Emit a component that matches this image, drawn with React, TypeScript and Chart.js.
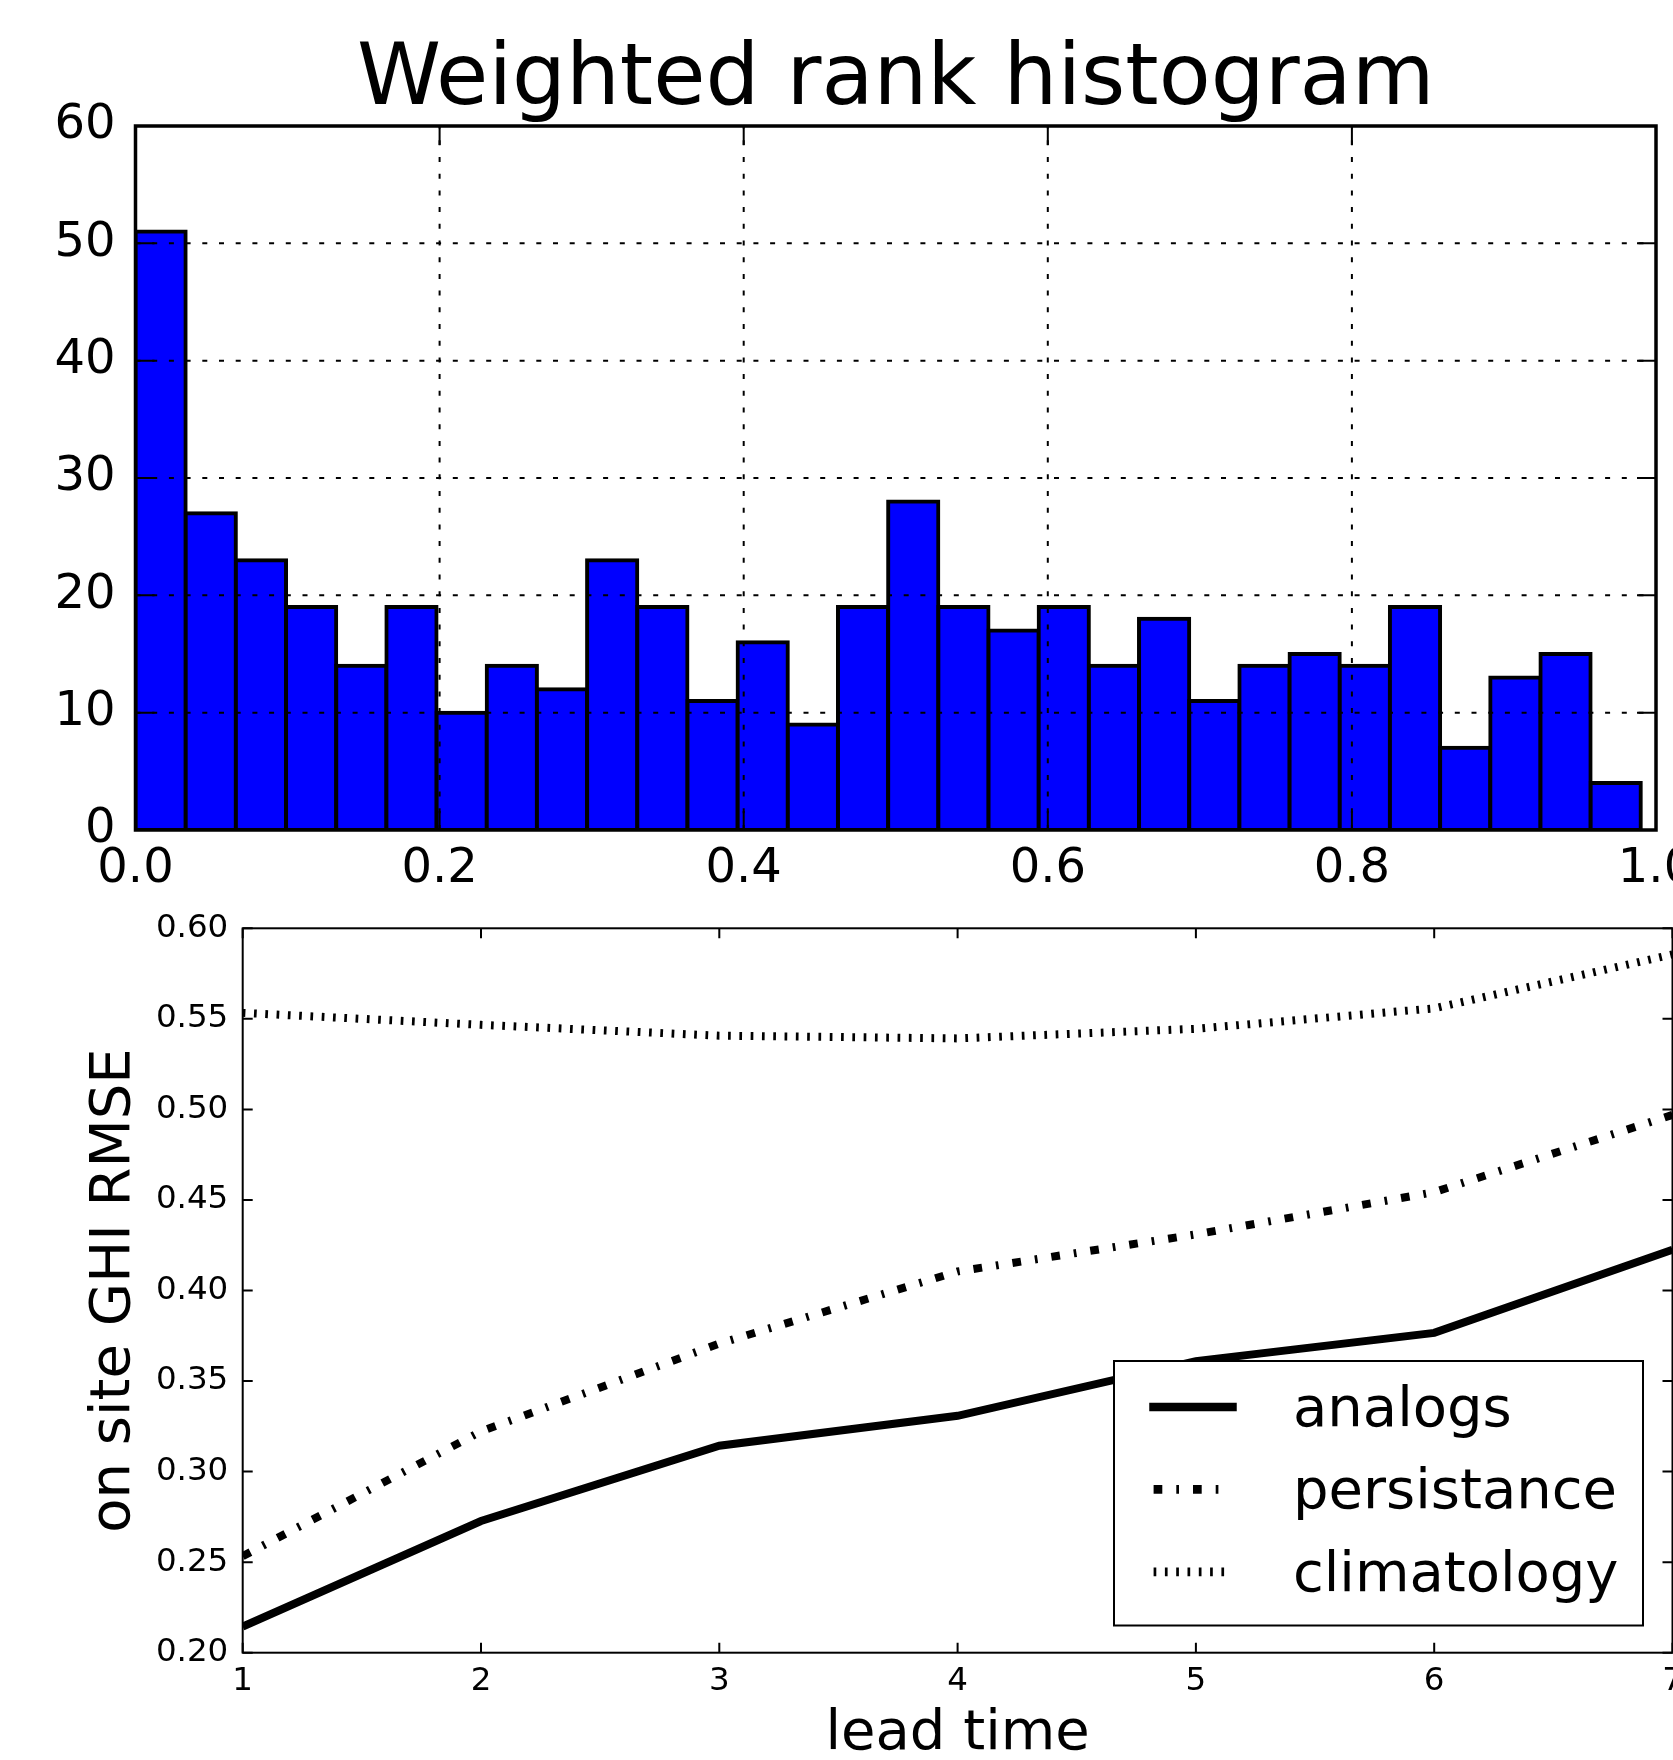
import React, { useEffect, useRef } from 'react';
import { Chart, registerables } from 'chart.js';

Chart.register(...registerables);

const FONT = 'DejaVu Sans';

// ---- Top chart: weighted rank histogram ----
const RANK_TITLE = 'Weighted rank histogram';
const RANK_BIN_WIDTH = 0.033;
const RANK_COUNTS = [51, 27, 23, 19, 14, 19, 10, 14, 12, 23, 19, 11, 16, 9, 19, 28, 19, 17, 19, 14, 18, 11, 14, 15, 14, 19, 7, 13, 15, 4];
const RANK_X_TICKS = [0, 0.2, 0.4, 0.6, 0.8, 1.0];
const RANK_Y_TICKS = [0, 10, 20, 30, 40, 50, 60];

// ---- Bottom chart: RMSE vs lead time ----
const LEAD_TIMES = [1, 2, 3, 4, 5, 6, 7];
const ANALOGS = [0.2144, 0.2727, 0.3143, 0.3308, 0.361, 0.3766, 0.4225];
const PERSISTANCE = [0.2533, 0.3222, 0.3707, 0.4105, 0.431, 0.4543, 0.497];
const CLIMATOLOGY = [0.5533, 0.5467, 0.5407, 0.5392, 0.5445, 0.5558, 0.5856];
const RMSE_Y_TICKS = [0.2, 0.25, 0.3, 0.35, 0.4, 0.45, 0.5, 0.55, 0.6];
const X_LABEL = 'lead time';
const Y_LABEL = 'on site GHI RMSE';

function drawInwardTicks(chart: any, len: number, width: number) {
  const { ctx, chartArea: ca, scales } = chart;
  const x = scales.x, y = scales.y;
  ctx.save();
  ctx.strokeStyle = '#000';
  ctx.lineWidth = width;
  ctx.setLineDash([]);
  for (const t of x.ticks) {
    const px = x.getPixelForValue(t.value);
    ctx.beginPath();
    ctx.moveTo(px, ca.bottom); ctx.lineTo(px, ca.bottom - len);
    ctx.moveTo(px, ca.top); ctx.lineTo(px, ca.top + len);
    ctx.stroke();
  }
  for (const t of y.ticks) {
    const py = y.getPixelForValue(t.value);
    ctx.beginPath();
    ctx.moveTo(ca.left, py); ctx.lineTo(ca.left + len, py);
    ctx.moveTo(ca.right, py); ctx.lineTo(ca.right - len, py);
    ctx.stroke();
  }
  ctx.restore();
}

const histFramePlugin = {
  id: 'histFrame',
  afterDatasetsDraw(chart: any) {
    const { ctx, chartArea: ca, scales } = chart;
    const x = scales.x, y = scales.y;
    ctx.save();
    ctx.strokeStyle = '#000';
    ctx.lineWidth = 2;
    ctx.setLineDash([5, 11.7]);
    for (const t of x.ticks) {
      const px = x.getPixelForValue(t.value);
      if (px <= ca.left + 1 || px >= ca.right - 1) continue;
      ctx.beginPath();
      ctx.moveTo(px, ca.bottom); ctx.lineTo(px, ca.top);
      ctx.stroke();
    }
    for (const t of y.ticks) {
      const py = y.getPixelForValue(t.value);
      if (py <= ca.top + 1 || py >= ca.bottom - 1) continue;
      ctx.beginPath();
      ctx.moveTo(ca.left, py); ctx.lineTo(ca.right, py);
      ctx.stroke();
    }
    ctx.restore();
    drawInwardTicks(chart, 19, 2);
    ctx.save();
    ctx.strokeStyle = '#000';
    ctx.lineWidth = 3.5;
    ctx.strokeRect(ca.left, ca.top, ca.right - ca.left, ca.bottom - ca.top);
    ctx.restore();
  },
};

const lineFramePlugin = {
  id: 'lineFrame',
  afterDatasetsDraw(chart: any) {
    const { ctx, chartArea: ca } = chart;
    drawInwardTicks(chart, 10, 2);
    ctx.save();
    ctx.strokeStyle = '#000';
    ctx.lineWidth = 2;
    ctx.strokeRect(ca.left, ca.top, ca.right - ca.left, ca.bottom - ca.top);
    ctx.restore();
  },
  afterDraw(chart: any) {
    // legend, lower right
    const { ctx, chartArea: ca } = chart;
    const boxW = 529, boxH = 264.5;
    const right = ca.right - 29.5, bottom = ca.bottom - 27.2;
    const left = right - boxW, top = bottom - boxH;
    ctx.save();
    ctx.fillStyle = '#fff';
    ctx.fillRect(left, top, boxW, boxH);
    ctx.strokeStyle = '#000';
    ctx.lineWidth = 2;
    ctx.setLineDash([]);
    ctx.strokeRect(left, top, boxW, boxH);
    chart.data.datasets.forEach((ds: any, i: number) => {
      const ry = top + 46 + i * 82.4;
      const dashed = ds.borderDash && ds.borderDash.length;
      ctx.beginPath();
      ctx.lineWidth = 8.7;
      ctx.lineCap = dashed ? 'butt' : 'square';
      ctx.setLineDash(dashed ? ds.borderDash : []);
      ctx.lineDashOffset = 0;
      ctx.moveTo(left + 39.6, ry);
      ctx.lineTo(left + 118.4, ry);
      ctx.stroke();
      ctx.setLineDash([]);
      ctx.fillStyle = '#000';
      ctx.font = `56px "${FONT}"`;
      ctx.textAlign = 'left';
      ctx.textBaseline = 'alphabetic';
      ctx.fillText(ds.label, left + 179, ry + 19);
    });
    ctx.restore();
  },
};

function histConfig(): any {
  return {
    type: 'bar',
    data: {
      datasets: [
        {
          label: 'rank',
          data: RANK_COUNTS.map((c, i) => ({ x: (i + 0.5) * RANK_BIN_WIDTH, y: c })),
          backgroundColor: '#0000ff',
          borderColor: '#000',
          borderWidth: 4,
          borderSkipped: false,
          inflateAmount: 2,
          barPercentage: 1,
          categoryPercentage: 1,
        },
      ],
    },
    options: {
      responsive: false,
      animation: false,
      devicePixelRatio: 1,
      layout: { padding: { left: 0, right: 17, top: 0, bottom: 0 } },
      plugins: {
        legend: { display: false },
        tooltip: { enabled: false },
        title: {
          display: true,
          text: RANK_TITLE,
          fullSize: false,
          color: '#000',
          font: { family: FONT, size: 85, weight: 'normal', lineHeight: 1.0 },
          padding: { top: 39.4, bottom: 1.6 },
        },
      },
      scales: {
        x: {
          type: 'linear',
          min: 0,
          max: 1,
          offset: false,
          grid: { display: false, drawTicks: false, offset: false },
          border: { display: false },
          afterBuildTicks: (s: any) => { s.ticks = RANK_X_TICKS.map((v) => ({ value: v })); },
          ticks: {
            autoSkip: false,
            maxRotation: 0,
            minRotation: 0,
            padding: 10.5,
            color: '#000',
            font: { family: FONT, size: 48 },
            callback: (v: any) => Number(v).toFixed(1),
          },
          afterFit: (s: any) => { s.height = 70; s.paddingLeft = 0; s.paddingRight = 0; },
        },
        y: {
          type: 'linear',
          min: 0,
          max: 60,
          grid: { display: false, drawTicks: false },
          border: { display: false },
          afterBuildTicks: (s: any) => { s.ticks = RANK_Y_TICKS.map((v) => ({ value: v })); },
          ticks: {
            autoSkip: false,
            padding: 20,
            labelOffset: 0,
            color: '#000',
            font: { family: FONT, size: 48 },
            callback: (v: any) => String(v),
          },
          afterFit: (s: any) => { s.width = 135.5; s.paddingTop = 0; s.paddingBottom = 0; },
        },
      },
    },
    plugins: [histFramePlugin],
  };
}

function lineConfig(): any {
  const pts = (arr: number[]) => LEAD_TIMES.map((x, i) => ({ x, y: arr[i] }));
  const common = {
    borderColor: '#000',
    backgroundColor: '#000',
    borderWidth: 8,
    pointRadius: 0,
    tension: 0,
    fill: false,
    clip: 0,
    borderCapStyle: 'butt',
  };
  return {
    type: 'line',
    data: {
      datasets: [
        { ...common, label: 'analogs', data: pts(ANALOGS) },
        { ...common, label: 'persistance', data: pts(PERSISTANCE), borderDash: [8.7, 14, 2.7, 14] },
        { ...common, label: 'climatology', data: pts(CLIMATOLOGY), borderDash: [2.7, 8.6] },
      ],
    },
    options: {
      responsive: false,
      animation: false,
      devicePixelRatio: 1,
      layout: { padding: { left: 0, right: 0.5, top: 28.3, bottom: 0 } },
      plugins: { legend: { display: false }, tooltip: { enabled: false }, title: { display: false } },
      scales: {
        x: {
          type: 'linear',
          min: 1,
          max: 7,
          grid: { display: false, drawTicks: false },
          border: { display: false },
          afterBuildTicks: (s: any) => { s.ticks = LEAD_TIMES.map((v) => ({ value: v })); },
          ticks: {
            autoSkip: false,
            maxRotation: 0,
            minRotation: 0,
            padding: 9.5,
            color: '#000',
            font: { family: FONT, size: 32.5 },
            callback: (v: any) => String(v),
          },
          title: {
            display: true,
            text: X_LABEL,
            color: '#000',
            font: { family: FONT, size: 56, lineHeight: 0.8 },
            padding: { top: 0, bottom: 3 },
          },
          afterFit: (s: any) => { s.height = 107.3; s.paddingLeft = 0; s.paddingRight = 0; },
        },
        y: {
          type: 'linear',
          min: 0.2,
          max: 0.6,
          grid: { display: false, drawTicks: false },
          border: { display: false },
          afterBuildTicks: (s: any) => { s.ticks = RMSE_Y_TICKS.map((v) => ({ value: v })); },
          ticks: {
            autoSkip: false,
            padding: 14.4,
            labelOffset: 0,
            color: '#000',
            font: { family: FONT, size: 32.5 },
            callback: (v: any) => Number(v).toFixed(2),
          },
          title: {
            display: true,
            text: Y_LABEL,
            color: '#000',
            font: { family: FONT, size: 56, lineHeight: 1.2 },
            padding: { top: 80.5, bottom: 0 },
          },
          afterFit: (s: any) => { s.width = 242.7; s.paddingTop = 0; s.paddingBottom = 0; },
        },
      },
    },
    plugins: [lineFramePlugin],
  };
}

export default function App() {
  const topRef = useRef<HTMLCanvasElement>(null);
  const botRef = useRef<HTMLCanvasElement>(null);

  useEffect(() => {
    const c1 = new Chart(topRef.current as HTMLCanvasElement, histConfig());
    const c2 = new Chart(botRef.current as HTMLCanvasElement, lineConfig());
    return () => {
      c1.destroy();
      c2.destroy();
    };
  }, []);

  return (
    <div style={{ position: 'absolute', left: 0, top: 0, width: 1673, height: 1760, background: '#fff', overflow: 'hidden' }}>
      <canvas ref={topRef} width={1673} height={900} style={{ position: 'absolute', left: 0, top: 0, width: 1673, height: 900 }} />
      <canvas ref={botRef} width={1673} height={860} style={{ position: 'absolute', left: 0, top: 900, width: 1673, height: 860 }} />
    </div>
  );
}
